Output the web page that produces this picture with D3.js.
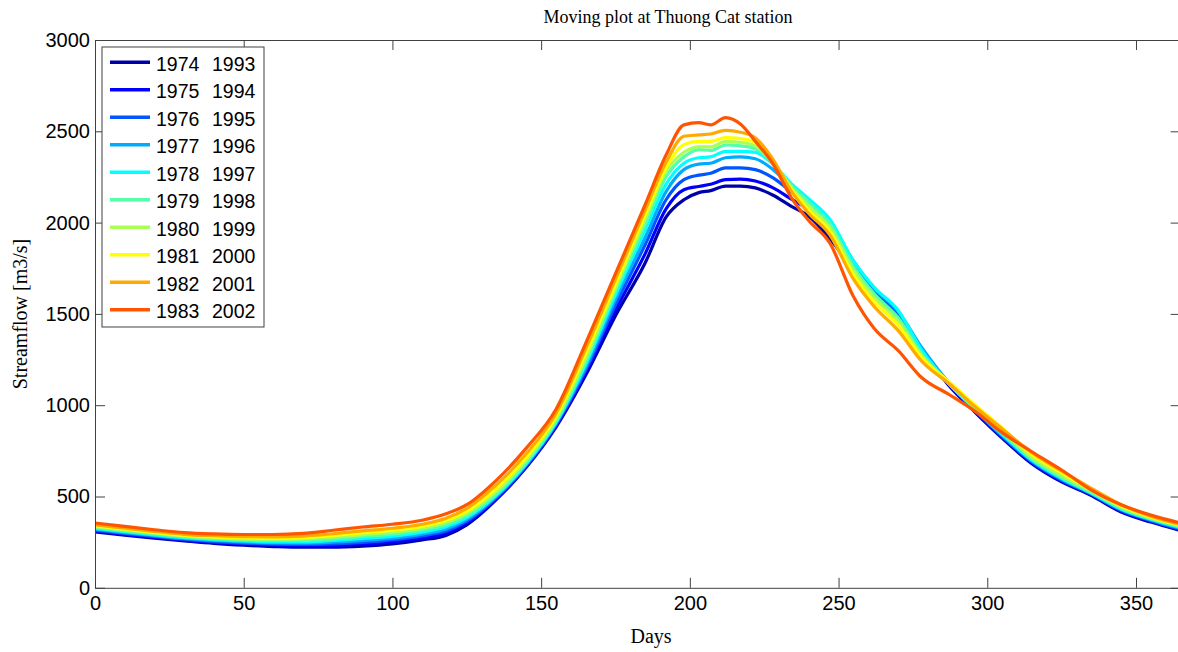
<!DOCTYPE html>
<html>
<head>
<meta charset="utf-8">
<script src="https://d3js.org/d3.v7.min.js"></script>
<style>
  body { margin: 0; background: #fff; }
  svg { display: block; }
  .tick text { font-family: "Liberation Sans", Arial, sans-serif; font-size: 20px; fill: #000; }
  .tick line, .domain { stroke: #404040; }
  .lbl { font-family: "Liberation Serif", "Times New Roman", serif; fill: #000; }
</style>
</head>
<body>
<svg id="chart" width="1178" height="652"></svg>
<script>
// day of year for each sample
var days = [0,10,20,30,40,50,60,70,80,90,100,110,118,125,135,145,155,165,175,185,
    192,198,203,207,212,217,222,228,234,240,247,255,262,270,278,287,296,305,315,325,
    335,345,355,365];

// 20-yr moving window mean streamflow (m3/s), one array per window
var q1974 = [306,288,272,257,243,233,226,222,222,228,240,262,287,345,484,660,880,1165,1490,1780,
    2030,2125,2164,2175,2200,2200,2190,2150,2090,2035,1915,1740,1600,1480,1300,1110,960,820,680,580,
    505,415,360,314];
var q1975 = [311,293,277,261,248,239,233,230,231,239,251,273,299,355,490,665,888,1180,1520,1830,
    2075,2180,2198,2210,2235,2238,2228,2190,2130,2070,1955,1760,1615,1490,1305,1115,965,825,685,585,
    510,420,365,318];
var q1976 = [316,298,281,266,253,245,239,237,241,249,262,284,311,365,496,670,895,1195,1550,1880,
    2125,2235,2260,2270,2300,2300,2290,2245,2170,2095,1985,1780,1630,1505,1310,1120,970,830,690,590,
    513,425,368,322];
var q1977 = [321,302,286,270,259,251,246,245,250,260,272,294,322,375,502,675,900,1210,1580,1920,
    2170,2290,2320,2325,2355,2360,2350,2290,2200,2115,2005,1790,1640,1515,1315,1125,975,835,695,595,
    516,428,372,326];
var q1978 = [326,307,290,275,264,257,252,252,259,270,283,305,334,385,508,680,905,1225,1605,1960,
    2210,2325,2355,2360,2390,2390,2385,2320,2215,2130,2020,1790,1645,1520,1300,1120,975,840,700,600,
    519,432,375,330];
var q1979 = [330,312,295,279,269,263,259,260,268,281,294,316,346,395,515,688,912,1240,1625,1990,
    2250,2360,2400,2395,2425,2420,2405,2325,2205,2110,1995,1760,1610,1480,1280,1120,980,848,705,605,
    522,436,378,334];
var q1980 = [335,317,300,284,274,268,266,268,278,291,305,327,358,408,528,700,925,1260,1645,2020,
    2280,2385,2415,2415,2445,2440,2420,2330,2195,2090,1975,1740,1590,1460,1270,1125,990,858,715,615,
    530,442,382,338];
var q1981 = [340,322,304,288,279,274,272,275,287,302,316,338,370,420,545,715,940,1285,1665,2045,
    2300,2427,2445,2445,2465,2460,2440,2335,2185,2070,1955,1715,1565,1440,1260,1130,1000,875,730,630,
    540,450,388,342];
var q1982 = [345,326,309,293,285,280,279,283,296,312,326,348,381,435,565,735,955,1310,1690,2070,
    2330,2473,2480,2485,2505,2495,2465,2345,2175,2050,1935,1690,1540,1410,1240,1120,990,870,740,640,
    545,455,392,346];
var q1983 = [355,336,318,302,295,292,292,298,315,333,348,370,405,455,590,765,978,1340,1720,2100,
    2370,2535,2547,2535,2575,2540,2445,2320,2140,2010,1890,1595,1420,1300,1150,1060,965,850,745,645,
    535,455,398,355];

var windowStart = ["1974","1975","1976","1977","1978","1979","1980","1981","1982","1983"];
var windowEnd   = ["1993","1994","1995","1996","1997","1998","1999","2000","2001","2002"];
var lineColors  = ["#0000aa","#0000ff","#0055ff","#00aaff","#00ffff","#55ffaa","#aaff55","#ffff00","#ffaa00","#ff5500"];
var xTicks = [0,50,100,150,200,250,300,350];
var yTicks = [0,500,1000,1500,2000,2500,3000];

var flows = [q1974,q1975,q1976,q1977,q1978,q1979,q1980,q1981,q1982,q1983];

var svg = d3.select("#chart");
// plot box edges (window.top is taken, so prefixed names)
var axLeft = 95, axRight = 1180.6, axTop = 40, axBottom = 587.8;

var x = d3.scaleLinear().domain([0,365]).range([axLeft,axRight]);
var y = d3.scaleLinear().domain([0,3000]).range([axBottom,axTop]);

svg.append("clipPath").attr("id","plotClip")
    .append("rect").attr("x",axLeft).attr("y",axTop).attr("width",axRight-axLeft).attr("height",axBottom-axTop);

var line = d3.line()
    .x(function(d){ return x(d[0]); })
    .y(function(d){ return y(d[1]); })
    .curve(d3.curveMonotoneX);

svg.append("g").attr("clip-path","url(#plotClip)")
    .selectAll("path.flow")
    .data(flows)
    .enter()
    .append("path")
    .attr("class","flow")
    .attr("fill","none")
    .attr("stroke-width",3.2)
    .attr("stroke-linejoin","round")
    .attr("stroke",function(d,i){ return lineColors[i]; })
    .attr("d",function(d){ return line(days.map(function(day,j){ return [day,d[j]]; })); });

// box axes, ticks pointing inward like matlab
svg.append("g").attr("transform","translate(0,"+axBottom+")")
    .call(d3.axisBottom(x).tickValues(xTicks).tickSize(-10).tickSizeOuter(0).tickPadding(8).tickFormat(d3.format("d")));
svg.append("g").attr("transform","translate(0,"+axTop+")")
    .call(d3.axisTop(x).tickValues(xTicks).tickSize(-10).tickSizeOuter(0).tickFormat(""));
svg.append("g").attr("transform","translate("+axLeft+",0)")
    .call(d3.axisLeft(y).tickValues(yTicks).tickSize(-10).tickSizeOuter(0).tickPadding(5).tickFormat(d3.format("d")));
svg.append("g").attr("transform","translate("+axRight+",0)")
    .call(d3.axisRight(y).tickValues(yTicks).tickSize(-10).tickSizeOuter(0).tickFormat(""));

svg.append("text").attr("class","lbl")
    .attr("x",668).attr("y",23).attr("text-anchor","middle")
    .style("font-size","18px")
    .text("Moving plot at Thuong Cat station");

svg.append("text").attr("class","lbl")
    .attr("x",651).attr("y",643).attr("text-anchor","middle")
    .style("font-size","20px")
    .text("Days");

svg.append("text").attr("class","lbl")
    .attr("transform","translate(27,314) rotate(-90)")
    .attr("text-anchor","middle")
    .style("font-size","20px")
    .text("Streamflow [m3/s]");

// legend
var legend = svg.append("g").attr("class","legend");
legend.append("rect")
    .attr("x",102).attr("y",47).attr("width",162).attr("height",280)
    .attr("fill","#fff").attr("stroke","#404040");

var rows = legend.selectAll("g.row")
    .data(windowStart)
    .enter()
    .append("g")
    .attr("class","row")
    .attr("transform",function(d,i){ return "translate(0,"+(62.3 + i*27.5)+")"; });

rows.append("line")
    .attr("x1",110).attr("x2",150)
    .attr("stroke-width",3.5)
    .attr("stroke",function(d,i){ return lineColors[i]; });

rows.append("text")
    .attr("x",156).attr("y",8.5)
    .style("font-family","'Liberation Sans', Arial, sans-serif")
    .style("font-size","19.5px")
    .text(function(d){ return d; });

rows.append("text")
    .attr("x",212).attr("y",8.5)
    .style("font-family","'Liberation Sans', Arial, sans-serif")
    .style("font-size","19.5px")
    .text(function(d,i){ return windowEnd[i]; });
</script>
</body>
</html>
